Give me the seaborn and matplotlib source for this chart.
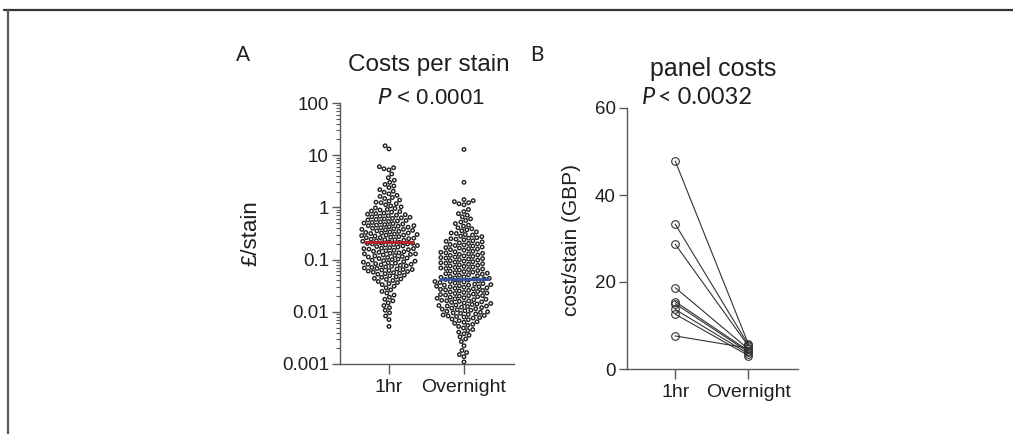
import numpy as np
import pandas as pd
import matplotlib
matplotlib.use("Agg")
import matplotlib.pyplot as plt
import seaborn as sns
from matplotlib.lines import Line2D
from matplotlib.ticker import FixedLocator, LogLocator, NullFormatter, FuncFormatter

# panel A: cost per stain, log10(GBP/stain)
groups = ["1hr", "Overnight"]

log_cost_1hr = [
    1.18, 1.12,
    0.78, 0.76, 0.74, 0.72, 0.64, 0.57, 0.52,
    0.48, 0.44, 0.41, 0.38, 0.34, 0.31,
    0.29, 0.26, 0.23, 0.21, 0.19, 0.17, 0.14, 0.12, 0.10,
    0.09, 0.07, 0.05, 0.03, 0.01,
    -0.01, -0.02, -0.04, -0.05, -0.07, -0.08, -0.09,
    -0.11, -0.12, -0.13, -0.14, -0.15, -0.16, -0.17, -0.18, -0.19,
    -0.20, -0.21, -0.22, -0.23, -0.24, -0.25, -0.26, -0.27, -0.28, -0.29,
    -0.30, -0.31, -0.32, -0.33, -0.34, -0.35, -0.35, -0.36, -0.37, -0.38, -0.39,
    -0.40, -0.41, -0.42, -0.42, -0.43, -0.44, -0.45, -0.46, -0.47, -0.48, -0.49, -0.49,
    -0.50, -0.51, -0.52, -0.53, -0.53, -0.54, -0.55, -0.56, -0.57, -0.58, -0.58, -0.59,
    -0.60, -0.61, -0.62, -0.62, -0.63, -0.64, -0.65, -0.66, -0.67, -0.68, -0.69, -0.69,
    -0.70, -0.70, -0.71, -0.72, -0.73, -0.74, -0.75, -0.76, -0.77, -0.78, -0.79, -0.79,
    -0.80, -0.81, -0.82, -0.83, -0.84, -0.85, -0.86, -0.87, -0.88, -0.89, -0.89,
    -0.90, -0.91, -0.92, -0.93, -0.94, -0.95, -0.96, -0.97, -0.98, -0.99,
    -1.00, -1.01, -1.02, -1.03, -1.04, -1.05, -1.06, -1.07, -1.08, -1.09, -1.09,
    -1.10, -1.11, -1.12, -1.13, -1.14, -1.15, -1.16, -1.17, -1.18, -1.19, -1.19,
    -1.20, -1.21, -1.22, -1.23, -1.24, -1.25, -1.26, -1.27, -1.28,
    -1.30, -1.31, -1.33, -1.34, -1.36, -1.37, -1.38,
    -1.40, -1.42, -1.44, -1.46, -1.48,
    -1.51, -1.54, -1.58, -1.61, -1.64, -1.68,
    -1.72, -1.76, -1.79, -1.83, -1.88, -1.92, -1.97,
    -2.02, -2.08, -2.15, -2.28,
]

log_cost_overnight = [
    1.11, 0.48,
    0.15, 0.13, 0.11, 0.09, 0.07, 0.05,
    -0.04, -0.08, -0.12, -0.15, -0.18, -0.22, -0.25, -0.28,
    -0.31, -0.34, -0.36, -0.39,
    -0.41, -0.43, -0.45, -0.47, -0.49,
    -0.50, -0.52, -0.53, -0.55, -0.56, -0.58, -0.59,
    -0.60, -0.61, -0.62, -0.64, -0.65, -0.66, -0.68, -0.69,
    -0.70, -0.71, -0.72, -0.73, -0.74, -0.76, -0.77, -0.78, -0.79,
    -0.80, -0.81, -0.82, -0.84, -0.85, -0.86, -0.87, -0.88, -0.89,
    -0.90, -0.91, -0.92, -0.93, -0.94, -0.95, -0.96, -0.97, -0.98, -0.99,
    -1.00, -1.01, -1.02, -1.03, -1.04, -1.05, -1.06, -1.07, -1.08, -1.09,
    -1.10, -1.11, -1.12, -1.13, -1.14, -1.15, -1.16, -1.17, -1.18, -1.19,
    -1.20, -1.21, -1.22, -1.23, -1.24, -1.25, -1.26, -1.27, -1.28, -1.29,
    -1.30, -1.31, -1.32, -1.33, -1.34, -1.35, -1.36, -1.37, -1.37, -1.38, -1.39,
    -1.40, -1.41, -1.42, -1.42, -1.43, -1.44, -1.45, -1.46, -1.47, -1.48, -1.49, -1.49,
    -1.50, -1.51, -1.52, -1.52, -1.53, -1.54, -1.55, -1.56, -1.57, -1.58, -1.59, -1.59,
    -1.60, -1.61, -1.62, -1.63, -1.64, -1.65, -1.66, -1.67, -1.68, -1.69, -1.69,
    -1.70, -1.71, -1.72, -1.73, -1.74, -1.75, -1.76, -1.77, -1.78, -1.79, -1.79,
    -1.80, -1.81, -1.82, -1.83, -1.84, -1.85, -1.86, -1.87, -1.88, -1.89, -1.89,
    -1.90, -1.91, -1.92, -1.93, -1.94, -1.95, -1.96, -1.97, -1.98, -1.99,
    -2.00, -2.01, -2.02, -2.03, -2.04, -2.05, -2.06, -2.07, -2.08, -2.09,
    -2.10, -2.11, -2.12, -2.14, -2.15, -2.17, -2.19,
    -2.20, -2.22, -2.24, -2.26, -2.28,
    -2.31, -2.34, -2.36, -2.39,
    -2.42, -2.45, -2.48, -2.52, -2.57, -2.65,
    -2.74, -2.78, -2.82, -2.86, -2.96,
]

median_colors = ["#b3242b", "#3553a0"]
p_text_a = "< 0.0001"

# panel B: panel costs, paired (GBP/stain)
cost_1hr = [47.8, 33.3, 28.7, 18.7, 15.5, 15.0, 13.7, 12.6, 7.6]
cost_overnight = [5.8, 5.6, 5.3, 4.6, 4.2, 3.9, 3.5, 3.1, 4.8]
p_text_b = "< 0.0032"

sns.set_theme(style="ticks")
plt.rcParams["font.family"] = ["Liberation Sans", "DejaVu Sans"]

W, H = 1013, 434
fig = plt.figure(figsize=(W / 100, H / 100), dpi=100)


def box(l, r, t, b):
    return [l / W, 1 - b / H, (r - l) / W, (b - t) / H]


def fx(x):
    return x / W


def fy(y):
    return 1 - y / H


ax_a = fig.add_axes(box(340, 514, 103, 364))
ax_b = fig.add_axes(box(627, 798, 108, 369))

ink = "0.12"
spine = "0.35"
calibri_like = ["Lato", "DejaVu Sans"]

# ---- panel A
df_a = pd.DataFrame({
    "group": [groups[0]] * len(log_cost_1hr) + [groups[1]] * len(log_cost_overnight),
    "cost": 10 ** np.array(log_cost_1hr + log_cost_overnight),
})
ax_a.set_yscale("log")
sns.swarmplot(data=df_a, x="group", y="cost", order=groups, ax=ax_a,
              size=2.5, color="0.2", linewidth=1.0)
for coll in ax_a.collections:
    coll.set_facecolor("none")
    coll.set_edgecolor("0.12")
    coll.set_linewidth(1.0)

for i, g in enumerate(groups):
    med = df_a.loc[df_a["group"] == g, "cost"].median()
    ax_a.hlines(med, i - 0.33, i + 0.33, colors=median_colors[i], lw=2.2, zorder=5)

ax_a.set_ylim(0.001, 100)
ax_a.set_xlim(-0.653, 1.667)
ax_a.yaxis.set_major_locator(FixedLocator([0.001, 0.01, 0.1, 1, 10, 100]))
ax_a.yaxis.set_major_formatter(FuncFormatter(lambda v, p: f"{v:g}"))
ax_a.yaxis.set_minor_locator(LogLocator(base=10, subs=range(2, 10)))
ax_a.yaxis.set_minor_formatter(NullFormatter())
ax_a.set_xlabel("")
ax_a.set_ylabel("")

# ---- panel B
df_b = pd.DataFrame({
    "pair": list(range(len(cost_1hr))) * 2,
    "x": [0] * len(cost_1hr) + [1] * len(cost_overnight),
    "cost": cost_1hr + cost_overnight,
})
sns.lineplot(data=df_b, x="x", y="cost", units="pair", estimator=None,
             color="0.2", lw=0.8, marker="o", markersize=5.5,
             markerfacecolor="none", markeredgecolor="0.2", markeredgewidth=0.8,
             ax=ax_b, legend=False)
ax_b.set_xlim(-0.66, 1.68)
ax_b.set_ylim(0, 60)
ax_b.set_yticks([0, 20, 40, 60])
ax_b.set_xticks([0, 1])
ax_b.set_xticklabels(groups)
ax_b.set_xlabel("")
ax_b.set_ylabel("")

for ax in (ax_a, ax_b):
    sns.despine(ax=ax)
    for s in ("left", "bottom"):
        ax.spines[s].set_color(spine)
        ax.spines[s].set_linewidth(1.0)
    ax.tick_params(axis="y", which="major", length=6, width=1, color=spine,
                   labelsize=13.5, labelcolor=ink, pad=2)
    ax.tick_params(axis="y", which="minor", length=3, width=0.8, color=spine)
    ax.tick_params(axis="x", length=7, width=1, color=spine,
                   labelsize=14, labelcolor=ink, pad=4)
    ax.patch.set_alpha(0)

# ---- texts
fig.text(fx(251), fy(233), "£/stain", rotation=90, ha="center", va="center",
         fontsize=16, color=ink)
fig.text(fx(571), fy(240), "cost/stain (GBP)", rotation=90, ha="center", va="center",
         fontsize=15, color=ink)
fig.text(fx(429), fy(65), "Costs per stain", ha="center", va="center",
         fontsize=17.5, color=ink)
fig.text(fx(431), fy(98), r"$\it{P}$ " + p_text_a, ha="center", va="center",
         fontsize=16, color=ink)
fig.text(fx(713), fy(69), "panel costs", ha="center", va="center",
         fontsize=18, color=ink)
fig.text(fx(655), fy(97), "P", ha="right", va="center", fontsize=17,
         style="italic", color=ink, family=calibri_like)
fig.text(fx(658), fy(97), p_text_b, ha="left", va="center", fontsize=17,
         color=ink, family=calibri_like)
fig.text(fx(243), fy(55), "A", ha="center", va="center", fontsize=15,
         color=ink, family=calibri_like)
fig.text(fx(537), fy(55), "B", ha="center", va="center", fontsize=15,
         color=ink, family=calibri_like)

# frame lines at the top and left edge
fig.add_artist(Line2D([fx(4), 1], [fy(9.5), fy(9.5)], color="0.2", lw=1.6))
fig.add_artist(Line2D([fx(7.5), fx(7.5)], [fy(9.5), 0], color="0.35", lw=1.6))

fig.savefig("out.png", dpi=100)
